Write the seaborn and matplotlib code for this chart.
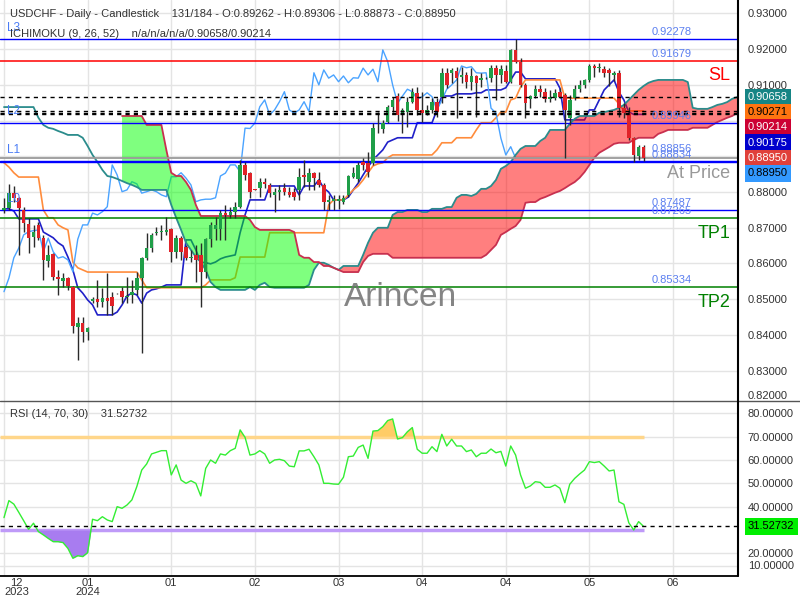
import numpy as np
import pandas as pd
import matplotlib
matplotlib.use("Agg")
import matplotlib.pyplot as plt
from matplotlib.lines import Line2D
import seaborn as sns

sns.set_style("white")
plt.rcParams['font.family'] = ['Liberation Sans', 'DejaVu Sans']

# ---------------- data ----------------
opens = [
    0.8750, 0.8756, 0.8797, 0.8783, 0.8750, 0.8710, 0.8675, 0.8708, 0.8671, 0.8607,
    0.8626, 0.8561, 0.8552, 0.8560, 0.8535, 0.8423, 0.8434, 0.8409, 0.8495, 0.8501,
    0.8493, 0.8504, 0.8507, 0.8516, 0.8523, 0.8506, 0.8512, 0.8526, 0.8559, 0.8616,
    0.8643, 0.8686, 0.8688, 0.8689, 0.8697, 0.8633, 0.8671, 0.8645, 0.8614, 0.8624,
    0.8624, 0.8577, 0.8668, 0.8696, 0.8696, 0.8741, 0.8736, 0.8745, 0.8757, 0.8876,
    0.8853, 0.8808, 0.8811, 0.8829, 0.8820, 0.8792, 0.8801, 0.8812, 0.8801, 0.8801,
    0.8806, 0.8848, 0.8829, 0.8854, 0.8834, 0.8820, 0.8773, 0.8774, 0.8775, 0.8773,
    0.8792, 0.8843, 0.8836, 0.8885, 0.8882, 0.8881, 0.8980, 0.8976, 0.8997, 0.9037,
    0.9069, 0.9016, 0.9025, 0.9053, 0.9078, 0.9030, 0.9021, 0.9030, 0.9053, 0.9067,
    0.9134, 0.9134, 0.9139, 0.9121, 0.9128, 0.9109, 0.9125, 0.9114, 0.9119, 0.9119,
    0.9147, 0.9128, 0.9139, 0.9109, 0.9198, 0.9165, 0.9100, 0.9060, 0.9069, 0.9088,
    0.9081, 0.9060, 0.9063, 0.9081, 0.9072, 0.9007, 0.9063, 0.9088, 0.9100, 0.9114,
    0.9153, 0.9147, 0.9144, 0.9142, 0.9128, 0.9134, 0.9035, 0.9021, 0.8951, 0.8901,
    0.89262]
highs = [
    0.8783, 0.8823, 0.8817, 0.8787, 0.8759, 0.8727, 0.8708, 0.8717, 0.8680, 0.8652,
    0.8629, 0.8582, 0.8573, 0.8563, 0.8538, 0.8451, 0.8451, 0.8423, 0.8507, 0.8554,
    0.8531, 0.8574, 0.8521, 0.8518, 0.8535, 0.8563, 0.8554, 0.8577, 0.8619, 0.8685,
    0.8685, 0.8703, 0.8708, 0.8729, 0.8699, 0.8680, 0.8677, 0.8652, 0.8638, 0.8652,
    0.8657, 0.8671, 0.8717, 0.8731, 0.8750, 0.8764, 0.8759, 0.8773, 0.8890, 0.8885,
    0.8857, 0.8809, 0.8839, 0.8839, 0.8825, 0.8811, 0.8820, 0.8825, 0.8815, 0.8811,
    0.8867, 0.8890, 0.8867, 0.8857, 0.8857, 0.8825, 0.8792, 0.8792, 0.8792, 0.8792,
    0.8848, 0.8871, 0.8885, 0.8895, 0.8913, 0.8993, 0.9025, 0.9002, 0.9044, 0.9067,
    0.9077, 0.9035, 0.9067, 0.9091, 0.9095, 0.9081, 0.9044, 0.9063, 0.9063, 0.9147,
    0.9147, 0.9147, 0.9151, 0.9151, 0.9137, 0.9147, 0.9128, 0.9133, 0.9121, 0.9156,
    0.9156, 0.9156, 0.9156, 0.9200, 0.92278, 0.9175, 0.9105, 0.9072, 0.9100, 0.9100,
    0.9091, 0.9086, 0.9088, 0.9091, 0.9077, 0.9072, 0.9100, 0.9114, 0.9116, 0.9159,
    0.9159, 0.9162, 0.9153, 0.9147, 0.9140, 0.9142, 0.9049, 0.9039, 0.8953, 0.8932,
    0.89306]
lows = [
    0.8740, 0.8750, 0.8773, 0.8624, 0.8689, 0.8630, 0.8647, 0.8666, 0.8554, 0.8591,
    0.8554, 0.8512, 0.8535, 0.8526, 0.8405, 0.8330, 0.8381, 0.8386, 0.8489, 0.8479,
    0.8479, 0.8456, 0.8456, 0.8514, 0.8489, 0.8489, 0.8489, 0.8512, 0.8349, 0.8610,
    0.8633, 0.8680, 0.8666, 0.8680, 0.8605, 0.8615, 0.8610, 0.8610, 0.8605, 0.8549,
    0.8479, 0.8559, 0.8647, 0.8666, 0.8666, 0.8666, 0.8727, 0.8727, 0.8755, 0.8834,
    0.8783, 0.8805, 0.8787, 0.8811, 0.8787, 0.8745, 0.8778, 0.8792, 0.8787, 0.8778,
    0.8778, 0.8815, 0.8806, 0.8806, 0.8815, 0.8750, 0.8750, 0.8750, 0.8752, 0.8767,
    0.8787, 0.8839, 0.8829, 0.8862, 0.8843, 0.8876, 0.8965, 0.8965, 0.8993, 0.9025,
    0.8999, 0.8965, 0.8983, 0.9049, 0.9016, 0.8997, 0.9016, 0.9021, 0.9011, 0.9049,
    0.9091, 0.9105, 0.9007, 0.9105, 0.9091, 0.9086, 0.9011, 0.9095, 0.9117, 0.9109,
    0.9058, 0.9105, 0.9105, 0.9105, 0.9161, 0.9095, 0.9007, 0.9035, 0.9063, 0.9067,
    0.9053, 0.9053, 0.9058, 0.9063, 0.8895, 0.8988, 0.9058, 0.9081, 0.9091, 0.9109,
    0.9123, 0.9137, 0.9123, 0.9097, 0.9110, 0.9011, 0.9007, 0.8946, 0.88834, 0.8890,
    0.88873]
closes = [
    0.8755, 0.8798, 0.8783, 0.8755, 0.8713, 0.8672, 0.8689, 0.8671, 0.8610, 0.8624,
    0.8563, 0.8557, 0.8560, 0.8537, 0.8426, 0.8433, 0.8409, 0.8420, 0.8501, 0.8493,
    0.8504, 0.8495, 0.8482, 0.8516, 0.8507, 0.8510, 0.8521, 0.8559, 0.8616, 0.8643,
    0.8680, 0.8689, 0.8692, 0.8694, 0.8633, 0.8671, 0.8633, 0.8615, 0.8619, 0.8610,
    0.8577, 0.8668, 0.8708, 0.8708, 0.8741, 0.8736, 0.8745, 0.8759, 0.8876, 0.8848,
    0.8801, 0.8806, 0.8829, 0.8823, 0.8797, 0.8801, 0.8806, 0.8801, 0.8792, 0.8787,
    0.8843, 0.8843, 0.8854, 0.8839, 0.8820, 0.8773, 0.8778, 0.8780, 0.8780, 0.8784,
    0.8845, 0.8853, 0.8876, 0.8876, 0.8857, 0.8979, 0.8978, 0.8993, 0.9039, 0.9058,
    0.9016, 0.9030, 0.9053, 0.9081, 0.9030, 0.9021, 0.9030, 0.9053, 0.9025, 0.9134,
    0.9100, 0.9142, 0.9119, 0.9128, 0.9109, 0.9125, 0.9106, 0.9120, 0.9119, 0.9147,
    0.9128, 0.9144, 0.9109, 0.9198, 0.9165, 0.9100, 0.9049, 0.9069, 0.9088, 0.9081,
    0.9060, 0.9067, 0.9078, 0.9067, 0.9030, 0.9058, 0.9088, 0.9100, 0.9114, 0.9153,
    0.9148, 0.9151, 0.9134, 0.9133, 0.9134, 0.9035, 0.9021, 0.8951, 0.8904, 0.8927,
    0.88950]

tenkan = [
    0.8753, 0.8753, 0.8747, 0.8725, 0.8725, 0.8725, 0.8725, 0.8725, 0.8688, 0.8680,
    0.8672, 0.8658, 0.8649, 0.8618, 0.8582, 0.8532, 0.8517, 0.8498, 0.8484, 0.8456,
    0.8456, 0.8456, 0.8456, 0.8464, 0.8484, 0.8509, 0.8517, 0.8512, 0.8489, 0.8517,
    0.8526, 0.8529, 0.8534, 0.8540, 0.8540, 0.8540, 0.8540, 0.8666, 0.8666, 0.8638,
    0.8604, 0.8602, 0.8599, 0.8604, 0.8613, 0.8618, 0.8621, 0.8624, 0.8686, 0.8736,
    0.8778, 0.8778, 0.8778, 0.8778, 0.8817, 0.8817, 0.8817, 0.8817, 0.8817, 0.8817,
    0.8792, 0.8817, 0.8817, 0.8817, 0.8834, 0.8811, 0.8800, 0.8778, 0.8778, 0.8778,
    0.8786, 0.8806, 0.8825, 0.8848, 0.8870, 0.8890, 0.8904, 0.8918, 0.8940, 0.8946,
    0.8952, 0.8952, 0.8952, 0.8952, 0.8994, 0.8994, 0.8994, 0.8994, 0.9030, 0.9069,
    0.9069, 0.9069, 0.9075, 0.9075, 0.9075, 0.9075, 0.9078, 0.9078, 0.9086, 0.9086,
    0.9086, 0.9086, 0.9092, 0.9114, 0.9136, 0.9136, 0.9117, 0.9117, 0.9117, 0.9117,
    0.9117, 0.9117, 0.9117, 0.9091, 0.9002, 0.9002, 0.9002, 0.9002, 0.9002, 0.9030,
    0.9030, 0.9058, 0.9086, 0.9100, 0.9114, 0.9080, 0.9058, 0.9024, 0.90175, 0.90175,
    0.90175]
kijun = [
    0.8882, 0.8870, 0.8854, 0.8842, 0.8842, 0.8842, 0.8842, 0.8842, 0.8750, 0.8728,
    0.8728, 0.8708, 0.8700, 0.8694, 0.8604, 0.8588, 0.8582, 0.8576, 0.8576, 0.8576,
    0.8576, 0.8576, 0.8576, 0.8576, 0.8576, 0.8576, 0.8576, 0.8576, 0.8554, 0.8532,
    0.8532, 0.8532, 0.8532, 0.8532, 0.8532, 0.8532, 0.8532, 0.8532, 0.8532, 0.8532,
    0.8532, 0.8540, 0.8554, 0.8554, 0.8554, 0.8554, 0.8554, 0.8560, 0.8618, 0.8618,
    0.8618, 0.8618, 0.8618, 0.8618, 0.8686, 0.8686, 0.8686, 0.8686, 0.8686, 0.8686,
    0.8686, 0.8686, 0.8686, 0.8686, 0.8686, 0.8686, 0.8764, 0.8778, 0.8778, 0.8778,
    0.8792, 0.8806, 0.8817, 0.8834, 0.8854, 0.8873, 0.8879, 0.8882, 0.8896, 0.8904,
    0.8904, 0.8904, 0.8904, 0.8904, 0.8904, 0.8904, 0.8904, 0.8904, 0.8918, 0.8938,
    0.8938, 0.8938, 0.8952, 0.8952, 0.8952, 0.8952, 0.8974, 0.8994, 0.8994, 0.8994,
    0.9008, 0.9024, 0.9024, 0.9058, 0.9063, 0.9094, 0.9114, 0.9114, 0.9114, 0.9114,
    0.9114, 0.9114, 0.9114, 0.9114, 0.9063, 0.9063, 0.9063, 0.9063, 0.9063, 0.9063,
    0.9063, 0.9063, 0.9063, 0.9063, 0.9063, 0.9047, 0.90271, 0.90271, 0.90271, 0.90271,
    0.90271]

# Senkou span A: bars 0 .. 150 (already displaced 26 bars forward)
senkou_a = [
    0.9038, 0.9038, 0.9038, 0.9038, 0.9038, 0.9038, 0.9038, 0.9008, 0.8988, 0.8980,
    0.8977, 0.8971, 0.8966, 0.8960, 0.8960, 0.8960, 0.8952, 0.8929, 0.8904, 0.8884,
    0.8862, 0.8845, 0.8842, 0.8837, 0.8831, 0.8825, 0.8820, 0.8814, 0.8806, 0.8806,
    0.8806, 0.8806, 0.8806, 0.8806, 0.8764, 0.8728, 0.8694, 0.8658, 0.8638, 0.8618,
    0.8604, 0.8582, 0.8548, 0.8534, 0.8526, 0.8526, 0.8526, 0.8526, 0.8526, 0.8526,
    0.8534, 0.8526, 0.8540, 0.8546, 0.8534, 0.8532, 0.8532, 0.8532, 0.8532, 0.8532,
    0.8532, 0.8532, 0.8540, 0.8582, 0.8602, 0.8602, 0.8596, 0.8588, 0.8582, 0.8593,
    0.8593, 0.8593, 0.8593, 0.8624, 0.8658, 0.8686, 0.8700, 0.8700, 0.8700, 0.8736,
    0.8744, 0.8744, 0.8750, 0.8750, 0.8750, 0.8744, 0.8744, 0.8753, 0.8753, 0.8753,
    0.8758, 0.8758, 0.8784, 0.8792, 0.8792, 0.8789, 0.8795, 0.8809, 0.8809, 0.8817,
    0.8834, 0.8865, 0.8873, 0.8884, 0.8904, 0.8921, 0.8929, 0.8929, 0.8929, 0.8943,
    0.8952, 0.8974, 0.8974, 0.8974, 0.8974, 0.8991, 0.9005, 0.9013, 0.9013, 0.9013,
    0.9013, 0.9022, 0.9024, 0.9027, 0.9030, 0.9036, 0.9044, 0.9058, 0.9072, 0.9086,
    0.9097, 0.9106, 0.9111, 0.9114, 0.9114, 0.9114, 0.9114, 0.9114, 0.9114, 0.9108,
    0.9036, 0.9033, 0.9033, 0.9033, 0.9038, 0.9044, 0.9047, 0.9052, 0.9061, 0.90658,
    0.90658]
# Senkou span B: starts at bar 24, up to bar 150
senkou_b_start = 24
senkou_b = [
    0.9013, 0.9013, 0.9013, 0.9013, 0.9013, 0.8988, 0.8988, 0.8988, 0.8988, 0.8918,
    0.8854, 0.8845, 0.8845, 0.8828, 0.8806, 0.8764, 0.8733, 0.8733, 0.8733, 0.8733,
    0.8733, 0.8733, 0.8733, 0.8733, 0.8733, 0.8733, 0.8722, 0.8702, 0.8694, 0.8694,
    0.8694, 0.8694, 0.8694, 0.8694, 0.8694, 0.8688, 0.8624, 0.8616, 0.8616, 0.8604,
    0.8604, 0.8593, 0.8593, 0.8588, 0.8582, 0.8576, 0.8576, 0.8576, 0.8576, 0.8604,
    0.8621, 0.8627, 0.8627, 0.8627, 0.8627, 0.8616, 0.8616, 0.8616, 0.8616, 0.8616,
    0.8616, 0.8616, 0.8616, 0.8616, 0.8616, 0.8616, 0.8616, 0.8616, 0.8616, 0.8616,
    0.8616, 0.8616, 0.8616, 0.8616, 0.8624, 0.8638, 0.8652, 0.8680, 0.8688, 0.8697,
    0.8705, 0.8722, 0.8770, 0.8772, 0.8772, 0.8781, 0.8786, 0.8792, 0.8798, 0.8803,
    0.8811, 0.8820, 0.8828, 0.8840, 0.8856, 0.8876, 0.8896, 0.8910, 0.8918, 0.8926,
    0.8935, 0.8938, 0.8938, 0.8938, 0.8946, 0.8952, 0.8952, 0.8952, 0.8952, 0.8963,
    0.8968, 0.8974, 0.8974, 0.8974, 0.8974, 0.8974, 0.8980, 0.8980, 0.8980, 0.8980,
    0.8988, 0.8996, 0.9002, 0.9008, 0.9013, 0.90214, 0.90214]

rsi = [
    35.3, 42.6, 41.1, 37.6, 34.0, 30.3, 32.9, 29.3, 27.9, 26.4,
    25.0, 25.0, 24.6, 22.1, 17.9, 19.0, 18.6, 20.3, 34.6, 34.0,
    35.7, 34.3, 33.6, 40.0, 39.3, 40.7, 42.9, 48.6, 55.7, 58.3,
    62.6, 63.3, 64.0, 64.0, 53.6, 57.9, 51.4, 50.0, 51.1, 50.0,
    44.6, 56.4, 60.0, 58.6, 62.6, 62.1, 64.0, 65.0, 72.9, 69.7,
    62.1, 62.6, 64.0, 62.6, 58.6, 60.0, 60.3, 59.7, 57.4, 57.1,
    63.9, 63.9, 64.6, 61.4, 57.9, 50.0, 50.0, 49.7, 49.6, 52.6,
    61.4, 61.7, 65.4, 66.4, 60.7, 72.4, 72.6, 74.3, 76.9, 77.6,
    69.0, 69.6, 72.1, 73.9, 64.6, 62.9, 62.9, 65.7, 63.6, 71.0,
    66.0, 68.9, 66.0, 66.0, 63.6, 64.3, 61.4, 62.9, 62.9, 64.7,
    63.1, 63.7, 57.4, 66.0, 62.1, 53.6, 47.9, 48.9, 50.7, 50.4,
    48.3, 48.3, 49.3, 47.9, 41.7, 49.6, 52.1, 54.0, 55.7, 59.3,
    58.9, 59.3, 57.4, 55.3, 55.7, 42.1, 41.0, 33.1, 30.0, 33.6,
    31.52732]

chikou_shift = 26
blue_levels = [0.92278, 0.89946, 0.88856, 0.88834, 0.87487]
level_tags = {0.92278: "L3", 0.89946: "L2", 0.88856: "L1", 0.87487: "L0"}
sl_level = 0.91679
tp1_level = 0.87265
tp2_level = 0.85334
at_price = 0.88950
dashed_levels = [0.90658, 0.90271, 0.90214, 0.90175]
value_boxes = [(0.90658, "#168585", "white"), (0.90271, "#ff7410", "black"),
               (0.90214, "#cc0033", "white"), (0.90175, "#0000cc", "white"),
               (0.88950, "#e0403a", "white"), (0.88950, "#3399ff", "black")]
rsi_last = 31.52732
x_tick_pos = [0, 17, 34, 51, 68, 85, 102, 119, 136]
x_tick_labels = ["12\n2023", "01\n2024", "01", "02", "03", "04", "04", "05", "06"]
price_ticks = [0.83, 0.84, 0.85, 0.86, 0.87, 0.88, 0.89, 0.90, 0.91, 0.92, 0.93]
price_bottom_label = 0.82
rsi_ticks = [20, 40, 50, 60, 70, 80]
rsi_bottom_label = 10

# ---------------- figure ----------------
W, H = 800.0, 600.0
fig = plt.figure(figsize=(8, 6), dpi=100)
ax = fig.add_axes([0, 1 - 400 / H, 738 / W, 400 / H])
ax2 = fig.add_axes([0, 1 - 576 / H, 738 / W, 176 / H], sharex=ax)

XMIN, XMAX = -0.81, 149.2
YMIN, YMAX = 0.82177, 0.93378
o = np.array(opens); h = np.array(highs); l = np.array(lows); c = np.array(closes)
n = len(c)
bars = np.arange(n)

for a in (ax, ax2):
    a.set_facecolor("white")
    for s in a.spines.values():
        s.set_visible(False)
    a.grid(True, color="#e4e4e4", lw=1)
    a.set_axisbelow(True)

# horizontal levels
for v in blue_levels:
    ax.axhline(v, color="#0000ff", lw=1.0, zorder=3.5)
ax.axhline(sl_level, color="#ff0000", lw=1.1, zorder=3.5)
ax.axhline(tp1_level, color="#008000", lw=1.1, zorder=3.5)
ax.axhline(tp2_level, color="#008000", lw=1.1, zorder=3.5)
ax.axhline(at_price, color="#9a9a9a", lw=1.3, zorder=3.6)
for v in dashed_levels:
    ax.axhline(v, color="black", lw=1, ls=(0, (3, 3)), zorder=6)

# ichimoku lines
a_x = np.arange(len(senkou_a))
b_x = np.arange(senkou_b_start, senkou_b_start + len(senkou_b))
sns.lineplot(x=a_x, y=senkou_a, ax=ax, color="#2b8c8c", lw=1.3, zorder=2.6)
sns.lineplot(x=b_x, y=senkou_b, ax=ax, color="#c8304f", lw=1.3, zorder=2.6)
sns.lineplot(x=bars, y=tenkan, ax=ax, color="#2020c8", lw=1.2, zorder=2)
sns.lineplot(x=bars, y=kijun, ax=ax, color="#ff8c3c", lw=1.2, zorder=2)
chik_x = bars[:n - chikou_shift]
chik_y = c[chikou_shift:]
sns.lineplot(x=chik_x, y=chik_y, ax=ax, color="#4aa3ff", lw=1, zorder=2)

# cloud
sa = np.array(senkou_a)[senkou_b_start:senkou_b_start + len(senkou_b)]
sb = np.array(senkou_b)
ax.fill_between(b_x, sa, sb, where=sb >= sa, interpolate=True, color="#00ff00",
                alpha=0.5, lw=0, zorder=2.5)
ax.fill_between(b_x, sa, sb, where=sb < sa, interpolate=True, color="#ff0000",
                alpha=0.5, lw=0, zorder=2.5)

# candles
col = np.where(c > o, "#1f9e48", np.where(c < o, "#e02228", "#222222"))
ax.vlines(bars, l, h, colors="#2a2a2a", lw=1, zorder=4)
body_lo = np.minimum(o, c)
body_h = np.maximum(np.abs(c - o), 0.00007)
ax.bar(bars, body_h, bottom=body_lo, width=0.72, color=col, lw=0, zorder=5)

ax.yaxis.tick_right()
ax.set_yticks(price_ticks)
ax.set_yticklabels([f"{v:.5f}" for v in price_ticks])
ax.set_xlim(XMIN, XMAX)
ax.set_ylim(YMIN, YMAX)
ax.tick_params(axis="y", length=0, pad=7, labelsize=8, labelcolor="#333333")
ax.tick_params(axis="x", length=0, labelbottom=False)
# bottom price label (shown clamped inside the panel, as in the reference)
fig.text(748 / W, 1 - 396 / H, f"{price_bottom_label:.5f}", fontsize=8,
         color="#333333", ha="left", va="center")

# level value labels
lab_x = 672 / 738
lab_off = {0.88856: 12}
for v in blue_levels + [sl_level, tp1_level, tp2_level]:
    ax.annotate(f"{v:.5f}", xy=(lab_x, v), xycoords=("axes fraction", "data"),
                xytext=(0, lab_off.get(v, 7)), textcoords="offset pixels",
                ha="center", va="center", fontsize=8, color="#5b7ff0", zorder=7)
for v, t in level_tags.items():
    ax.annotate(t, xy=(0, v), xycoords=("axes fraction", "data"),
                xytext=(7, 11.5), textcoords="offset pixels",
                ha="left", va="center", fontsize=8.5, color="#4a7cf5", zorder=7)
for t, v, colr in [("SL", sl_level, "#ff0000"), ("TP1", tp1_level, "#008000"),
                   ("TP2", tp2_level, "#008000"), ("At Price", at_price, "#999999")]:
    ax.annotate(t, xy=(730 / 738, v), xycoords=("axes fraction", "data"),
                xytext=(0, -15), textcoords="offset pixels",
                ha="right", va="center", fontsize=13, color=colr, zorder=7)

# right value boxes (stacked)
prev = None
for v, fc, tc in value_boxes:
    pos = v if prev is None else min(v, prev - 0.00425)
    prev = pos
    ax.annotate(f"{v:.5f}", xy=(1, pos), xycoords=("axes fraction", "data"),
                xytext=(10, 0), textcoords="offset pixels", ha="left", va="center",
                fontsize=8, color=tc, annotation_clip=False,
                bbox=dict(boxstyle="square,pad=0.3", fc=fc, ec="none"))

# ---------------- RSI ----------------
r = np.array(rsi)
ax2.hlines(70, XMIN, n - 1, color="#ffd68a", lw=2.5, zorder=2)
ax2.hlines(30, XMIN, n - 1, color="#bf9af8", lw=2.5, zorder=2)
ax2.fill_between(bars, r, 70, where=r > 70, interpolate=True, color="#ffcc66", lw=0, zorder=2.5)
ax2.fill_between(bars, r, 30, where=r < 30, interpolate=True, color="#a87cf0", lw=0, zorder=2.5)
sns.lineplot(x=bars, y=r, ax=ax2, color="#33ee33", lw=1, zorder=4)
ax2.axhline(rsi_last, color="black", lw=1, ls=(0, (3, 3)), zorder=5)
ax2.yaxis.tick_right()
ax2.set_yticks(rsi_ticks)
ax2.set_yticklabels([f"{v:.5f}" for v in rsi_ticks])
ax2.set_ylim(10.29, 85.71)
ax2.tick_params(axis="y", length=0, pad=7, labelsize=8, labelcolor="#333333")
# the reference shows its bottom RSI label and grid line clamped a little above the edge
ax2.axhline(14.4, color="#e4e4e4", lw=1, zorder=0)
fig.text(748 / W, 1 - 566 / H, f"{rsi_bottom_label:.5f}", fontsize=8,
         color="#333333", ha="left", va="center")
ax2.set_xticks(x_tick_pos)
ax2.set_xticklabels(x_tick_labels, linespacing=0.9)
ax2.tick_params(axis="x", length=0, pad=1.5, labelsize=8, labelcolor="#333333")
first = ax2.get_xticklabels()[0]
first.set_horizontalalignment("left")
first.set_multialignment("center")
ax2.set_xlim(XMIN, XMAX)
ax2.set_xlabel(""); ax2.set_ylabel(""); ax.set_xlabel(""); ax.set_ylabel("")
ax2.annotate(f"{rsi_last:.5f}", xy=(1, rsi_last), xycoords=("axes fraction", "data"),
             xytext=(10, 0), textcoords="offset pixels", ha="left", va="center",
             fontsize=8, color="black", annotation_clip=False,
             bbox=dict(boxstyle="square,pad=0.3", fc="#00ee00", ec="none"))

# ---------------- frame lines & texts ----------------
fig.add_artist(Line2D([0, 1], [1 - 400.5 / H, 1 - 400.5 / H], color="#555555", lw=1))
fig.add_artist(Line2D([0, 738 / W], [1 - 576 / H, 1 - 576 / H], color="black", lw=1.3))
fig.add_artist(Line2D([738 / W, 738 / W], [1 - 576 / H, 1.0], color="black", lw=1.5))

fig.text(10 / W, 1 - 14 / H,
         "USDCHF - Daily - Candlestick    131/184 - O:0.89262 - H:0.89306 - L:0.88873 - C:0.88950",
         fontsize=8, color="#333333", va="center", ha="left")
fig.text(10 / W, 1 - 34 / H, "ICHIMOKU (9, 26, 52)    n/a/n/a/n/a/0.90658/0.90214",
         fontsize=8, color="#333333", va="center", ha="left")
fig.text(10 / W, 1 - 414 / H, "RSI (14, 70, 30)    31.52732",
         fontsize=8, color="#333333", va="center", ha="left")
fig.text(400 / W, 1 - 298 / H, "Arincen", fontsize=24, color="#707070",
         alpha=0.85, ha="center", va="center")

fig.savefig("out.png", dpi=100)
